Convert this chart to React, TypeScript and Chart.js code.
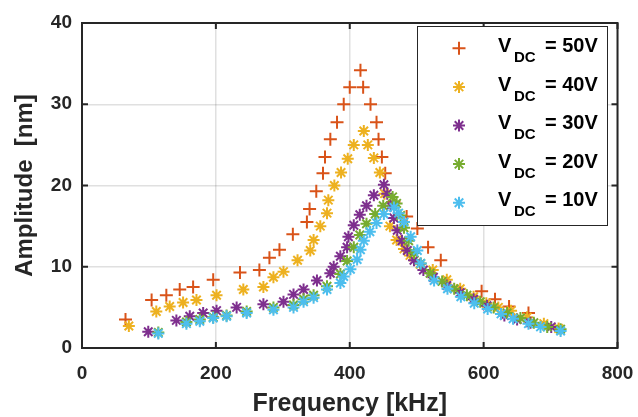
import React, { useEffect, useRef } from 'react';
import { Chart, registerables } from 'chart.js';

Chart.register(...registerables);

// ---------- data ----------
const xTicks = [0, 200, 400, 600, 800];
const yTicks = [0, 10, 20, 30, 40];
const seriesLabels = ['50V', '40V', '30V', '20V', '10V'];
const seriesColors = ['#D95319', '#EDB120', '#7E2F8E', '#77AC30', '#4DBEEE'];
const seriesMarkers = ['cross', 'star', 'star', 'star', 'star'];

const freq50 = [65, 104, 126, 146, 166, 196, 236, 265, 280, 295, 315, 336, 340, 350, 360, 363, 371, 381, 391, 400, 416, 420, 431, 440, 443, 448, 453, 466, 485, 501, 517, 536, 597, 617, 638, 667];
const amp50 = [3.5, 5.9, 6.5, 7.2, 7.5, 8.4, 9.3, 9.6, 11.1, 12.1, 14.0, 15.5, 17.1, 19.3, 21.5, 23.5, 25.7, 27.8, 30.0, 32.1, 34.2, 32.1, 30.0, 27.8, 25.7, 23.5, 21.5, 18.0, 16.2, 14.7, 12.4, 10.8, 7.0, 6.0, 5.1, 4.3];

const freq40 = [70, 111, 131, 151, 171, 201, 241, 271, 286, 301, 322, 341, 346, 356, 366, 368, 377, 387, 397, 406, 421, 427, 436, 445, 452, 460, 470, 481, 490, 505, 524, 545, 565, 585, 604, 622, 641, 665, 690, 712];
const amp40 = [2.7, 4.5, 5.1, 5.6, 5.9, 6.5, 7.2, 7.5, 8.7, 9.4, 10.8, 12.0, 13.3, 15.0, 16.6, 18.2, 20.0, 21.6, 23.3, 25.0, 26.7, 25.0, 23.4, 21.6, 19.0, 15.0, 13.3, 12.2, 11.4, 10.3, 9.6, 8.4, 7.3, 6.3, 5.5, 5.0, 4.6, 3.8, 3.0, 2.4];

const freq30 = [99, 141, 161, 181, 201, 231, 271, 301, 316, 331, 351, 371, 376, 386, 396, 398, 406, 415, 425, 436, 451, 456, 461, 466, 471, 478, 486, 496, 510, 525, 545, 565, 585, 605, 631, 650, 670, 701];
const amp30 = [2.0, 3.4, 3.9, 4.3, 4.6, 5.0, 5.4, 5.7, 6.6, 7.2, 8.3, 9.2, 10.0, 11.3, 12.4, 13.7, 15.1, 16.4, 17.5, 18.8, 20.1, 19.0, 17.5, 16.0, 14.5, 13.2, 12.0, 10.8, 9.6, 8.7, 7.7, 6.8, 6.0, 5.2, 4.0, 3.5, 3.1, 2.6];

const freq20 = [114, 156, 176, 196, 216, 246, 286, 316, 331, 346, 366, 386, 396, 406, 415, 425, 438, 450, 464, 470, 476, 481, 488, 496, 506, 520, 538, 556, 575, 595, 615, 635, 655, 675, 695, 715];
const amp20 = [1.9, 3.2, 3.5, 3.8, 4.0, 4.5, 5.0, 5.3, 6.0, 6.5, 7.6, 9.1, 10.7, 12.4, 13.9, 15.3, 16.5, 17.5, 18.6, 17.8, 16.3, 14.8, 13.2, 11.7, 10.4, 9.2, 8.2, 7.3, 6.5, 5.7, 5.0, 4.3, 3.7, 3.1, 2.6, 2.3];

const freq10 = [114, 156, 176, 196, 216, 246, 286, 316, 331, 346, 366, 386, 391, 401, 411, 416, 421, 430, 440, 451, 466, 473, 481, 491, 501, 506, 526, 546, 566, 586, 606, 626, 644, 667, 685, 715];
const amp10 = [1.8, 3.0, 3.3, 3.7, 3.9, 4.3, 4.7, 5.0, 5.7, 6.2, 7.2, 8.0, 8.8, 9.7, 10.9, 12.1, 13.2, 14.3, 15.4, 16.5, 17.3, 16.6, 15.5, 13.7, 12.0, 10.4, 8.3, 7.3, 6.3, 5.5, 4.8, 4.2, 3.6, 3.0, 2.6, 2.1];

const seriesFreq = [freq50, freq40, freq30, freq20, freq10];
const seriesAmp = [amp50, amp40, amp30, amp20, amp10];

const FONT = '"Liberation Sans", Arial, Helvetica, sans-serif';
const INK = '#262626';

function drawMarker(ctx: CanvasRenderingContext2D, style: string, x: number, y: number, r: number) {
  ctx.beginPath();
  ctx.moveTo(x - r, y);
  ctx.lineTo(x + r, y);
  ctx.moveTo(x, y - r);
  ctx.lineTo(x, y + r);
  if (style === 'star') {
    const d = r * Math.SQRT1_2;
    ctx.moveTo(x - d, y - d);
    ctx.lineTo(x + d, y + d);
    ctx.moveTo(x - d, y + d);
    ctx.lineTo(x + d, y - d);
  }
  ctx.stroke();
}

const framePlugin = {
  id: 'matlabFrame',
  afterDatasetsDraw(chart: any) {
    const { ctx, chartArea: a, scales } = chart;
    ctx.save();
    ctx.strokeStyle = INK;
    ctx.lineWidth = 2;
    ctx.strokeRect(a.left, a.top, a.right - a.left, a.bottom - a.top);
    const tl = 6;
    ctx.beginPath();
    xTicks.forEach((v) => {
      const px = scales.x.getPixelForValue(v);
      ctx.moveTo(px, a.bottom);
      ctx.lineTo(px, a.bottom - tl);
      ctx.moveTo(px, a.top);
      ctx.lineTo(px, a.top + tl);
    });
    yTicks.forEach((v) => {
      const py = scales.y.getPixelForValue(v);
      ctx.moveTo(a.left, py);
      ctx.lineTo(a.left + tl, py);
      ctx.moveTo(a.right, py);
      ctx.lineTo(a.right - tl, py);
    });
    ctx.stroke();
    ctx.restore();
  },
  afterDraw(chart: any) {
    const { ctx } = chart;
    ctx.save();
    // legend box
    const bx = 417, by = 26, bw = 190, bh = 199;
    ctx.fillStyle = '#ffffff';
    ctx.fillRect(bx, by, bw, bh);
    ctx.strokeStyle = INK;
    ctx.lineWidth = 1;
    ctx.strokeRect(bx + 0.5, by + 0.5, bw, bh);
    const pitch = 38.6;
    chart.data.datasets.forEach((ds: any, i: number) => {
      const my = 48.3 + pitch * i;
      ctx.strokeStyle = ds.pointBorderColor;
      ctx.lineWidth = 2;
      drawMarker(ctx, ds.pointStyle, 459, my, ds.pointStyle === 'cross' ? 6.5 : 6);
      const base = my + 3.6;
      ctx.fillStyle = '#000000';
      ctx.textBaseline = 'alphabetic';
      ctx.textAlign = 'left';
      ctx.font = `bold 20px ${FONT}`;
      ctx.fillText('V', 498, base);
      ctx.font = `bold 15px ${FONT}`;
      ctx.fillText('DC', 514, base + 10);
      ctx.font = `bold 20px ${FONT}`;
      ctx.fillText('= ' + seriesLabels[i], 545, base);
    });
    ctx.restore();
  },
};

export default function App() {
  const ref = useRef<HTMLCanvasElement | null>(null);

  useEffect(() => {
    if (!ref.current) return;
    const datasets = seriesLabels.map((lab, i) => ({
      label: 'V_DC = ' + lab,
      data: seriesFreq[i].map((f, k) => ({ x: f, y: seriesAmp[i][k] })),
      showLine: false,
      pointStyle: seriesMarkers[i],
      pointRadius: seriesMarkers[i] === 'cross' ? 6.5 : 6,
      pointHoverRadius: seriesMarkers[i] === 'cross' ? 6.5 : 6,
      pointBorderWidth: 2,
      pointBorderColor: seriesColors[i],
      pointBackgroundColor: seriesColors[i],
      borderColor: seriesColors[i],
      backgroundColor: seriesColors[i],
      order: seriesLabels.length - i,
    }));

    const chart = new Chart(ref.current, {
      type: 'scatter',
      data: { datasets },
      options: {
        animation: false,
        responsive: false,
        layout: { padding: { top: 23, right: 20.5, left: 0, bottom: 0 } },
        plugins: {
          legend: { display: false },
          tooltip: { enabled: false },
        },
        scales: {
          x: {
            type: 'linear',
            min: 0,
            max: 800,
            afterFit: (s: any) => { s.height = 69; s.paddingRight = 0; s.paddingLeft = 0; },
            afterBuildTicks: (s: any) => { s.ticks = xTicks.map((v) => ({ value: v })); },
            ticks: {
              stepSize: 200,
              autoSkip: false,
              maxRotation: 0,
              padding: 14,
              color: INK,
              font: { family: FONT, size: 19, weight: 'bold', lineHeight: 1.2 },
            },
            grid: { color: 'rgba(38,38,38,0.14)', lineWidth: 1.5, drawTicks: false },
            border: { display: false },
            title: {
              display: true,
              text: 'Frequency [kHz]',
              color: INK,
              font: { family: FONT, size: 25, weight: 'bold', lineHeight: 1 },
              padding: { top: 0, bottom: 0 },
            },
          },
          y: {
            type: 'linear',
            min: 0,
            max: 40,
            afterFit: (s: any) => { s.width = 82; s.paddingTop = 0; s.paddingBottom = 0; },
            afterBuildTicks: (s: any) => { s.ticks = yTicks.map((v) => ({ value: v })); },
            ticks: {
              stepSize: 10,
              padding: 10,
              color: INK,
              font: { family: FONT, size: 19, weight: 'bold', lineHeight: 1.2 },
            },
            grid: { color: 'rgba(38,38,38,0.14)', lineWidth: 1.5, drawTicks: false },
            border: { display: false },
            title: {
              display: true,
              text: 'Amplitude  [nm]',
              color: INK,
              font: { family: FONT, size: 24, weight: 'bold', lineHeight: 1 },
              padding: { top: 13, bottom: 0 },
            },
          },
        },
      },
      plugins: [framePlugin],
    } as any);

    return () => chart.destroy();
  }, []);

  return (
    <div style={{ position: 'absolute', left: 0, top: 0, width: 638, height: 417, background: '#ffffff' }}>
      <canvas ref={ref} width={638} height={417} style={{ display: 'block' }} />
    </div>
  );
}
